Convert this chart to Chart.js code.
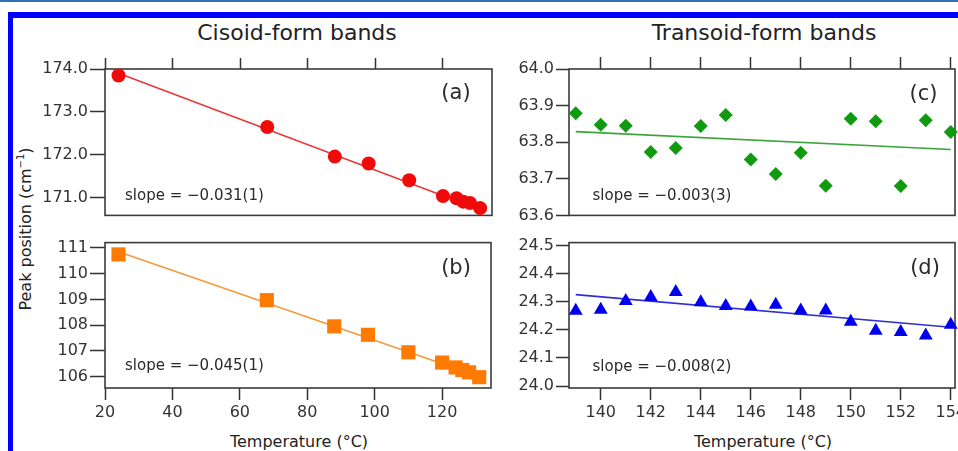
<!DOCTYPE html>
<html>
<head>
<meta charset="utf-8">
<script src="https://cdn.jsdelivr.net/npm/chart.js@4.4.0/dist/chart.umd.min.js"></script>
<style>
  html, body { margin: 0; padding: 0; width: 958px; height: 451px; overflow: hidden; background: #fff; }
  body { position: relative; font-family: "DejaVu Sans", sans-serif; color: #222; }
  #topline { position: absolute; left: 0; top: 0; width: 958px; height: 2px; background: #2f6fb5; }
  #frameTop { position: absolute; left: 8px; top: 12px; width: 950px; height: 6px; background: #0000fc; }
  #frameLeft { position: absolute; left: 8px; top: 12px; width: 5px; height: 439px; background: #0000fc; }
  canvas { position: absolute; }
  .lbl { position: absolute; white-space: nowrap; transform: translate(-50%, -50%); }
  .head { font-size: 22px; }
  .xt { font-size: 16px; }
  #ytitle { font-size: 16px; transform: translate(-50%, -50%) rotate(-90deg); }
  #ytitle sup { font-size: 10px; }
</style>
</head>
<body>
<div id="topline"></div>
<div id="frameTop"></div>
<div id="frameLeft"></div>

<div class="lbl head" style="left:297px;top:32px">Cisoid-form bands</div>
<div class="lbl head" style="left:764px;top:32px">Transoid-form bands</div>
<div class="lbl xt" style="left:299px;top:441px">Temperature (°C)</div>
<div class="lbl xt" style="left:763px;top:441px">Temperature (°C)</div>
<div class="lbl" id="ytitle" style="left:25px;top:229px">Peak position (cm<sup>−1</sup>)</div>

<canvas id="chartA"></canvas>
<canvas id="chartB"></canvas>
<canvas id="chartC"></canvas>
<canvas id="chartD"></canvas>

<script>
// cisoid-form bands, panels (a) and (b)
const cisTemps = [24, 68, 88, 98, 110, 120, 124, 126, 128, 131];
const peaksA = [173.85, 172.65, 171.96, 171.80, 171.41, 171.04, 170.99, 170.91, 170.88, 170.76];
const peaksB = [110.75, 108.97, 107.95, 107.62, 106.94, 106.54, 106.35, 106.25, 106.16, 105.97];
const fitTempsCis = [24, 131];
const fitA = [173.9, 170.72];
const fitB = [110.85, 106.0];

// transoid-form bands, panels (c) and (d)
const transTemps = [139, 140, 141, 142, 143, 144, 145, 146, 147, 148, 149, 150, 151, 152, 153, 154];
const peaksC = [63.879, 63.848, 63.845, 63.773, 63.784, 63.844, 63.874, 63.753, 63.713, 63.771, 63.681, 63.864, 63.857, 63.680, 63.860, 63.828];
const peaksD = [24.268, 24.271, 24.302, 24.317, 24.334, 24.298, 24.285, 24.283, 24.289, 24.269, 24.269, 24.229, 24.197, 24.192, 24.180, 24.218];
const fitTempsTrans = [139, 154];
const fitC = [63.829, 63.780];
const fitD = [24.325, 24.209];

// tick labels
const xTicksCis = [20, 40, 60, 80, 100, 120];
const xTicksTrans = [140, 142, 144, 146, 148, 150, 152, 154];
const yTicksA = [171, 172, 173, 174];
const yTicksB = [106, 107, 108, 109, 110, 111];
const yTicksC = [63.6, 63.7, 63.8, 63.9, 64.0];
const yTicksD = [24.0, 24.1, 24.2, 24.3, 24.4, 24.5];

const FONT = "DejaVu Sans";
const INK = "#333";

function pts(xs, ys) {
  return xs.map((x, i) => ({ x: x, y: ys[i] }));
}

// frame around the plot area plus the slope text and the panel letter
const panelText = {
  id: "panelText",
  beforeDatasetsDraw(chart, args, opts) {
    const ctx = chart.ctx;
    const a = chart.chartArea;
    ctx.save();
    ctx.strokeStyle = "#3a3a3a";
    ctx.lineWidth = 1.6;
    ctx.strokeRect(a.left, a.top, a.right - a.left, a.bottom - a.top);
    ctx.fillStyle = "#2a2a2a";
    ctx.textBaseline = "middle";
    ctx.textAlign = "left";
    ctx.font = "15px \"" + FONT + "\"";
    ctx.fillText(opts.slope, a.left + opts.slopeDx, a.bottom - opts.slopeDy);
    ctx.textAlign = "center";
    ctx.font = "21px \"" + FONT + "\"";
    ctx.fillText(opts.tag, a.right - opts.tagDx, a.top + opts.tagDy);
    ctx.restore();
  }
};

function makePanel(id, p) {
  const canvas = document.getElementById(id);
  const padRight = 24;
  const onTop = p.xPos === "top";
  const left = p.box.left - p.yWidth;
  const top = onTop ? p.box.top - p.xHeight : p.box.top - 6;
  const width = p.box.right - left + padRight;
  const height = onTop ? p.box.bottom - top + 6 : p.box.bottom - top + p.xHeight;
  canvas.width = width;
  canvas.height = height;
  canvas.style.left = left + "px";
  canvas.style.top = top + "px";
  canvas.style.width = width + "px";
  canvas.style.height = height + "px";

  return new Chart(canvas, {
    type: "scatter",
    data: {
      datasets: [
        {
          data: pts(p.temps, p.values),
          pointStyle: p.marker,
          pointRadius: p.radius,
          pointBackgroundColor: p.color,
          pointBorderWidth: 0,
          showLine: false,
          clip: false
        },
        {
          data: pts(p.fitT, p.fitV),
          showLine: true,
          pointRadius: 0,
          borderColor: p.lineColor,
          borderWidth: 1.6,
          clip: false
        }
      ]
    },
    options: {
      responsive: false,
      animation: false,
      events: [],
      layout: { padding: { left: 0, right: padRight, top: onTop ? 0 : 6, bottom: onTop ? 6 : 0 } },
      plugins: {
        legend: { display: false },
        tooltip: { enabled: false },
        panelText: p.text
      },
      scales: {
        x: {
          type: "linear",
          position: p.xPos,
          min: p.xMin,
          max: p.xMax,
          afterBuildTicks: (s) => { s.ticks = p.xTicks.map((v) => ({ value: v })); },
          afterFit: (s) => { s.height = p.xHeight; },
          border: { display: false },
          grid: { drawOnChartArea: false, drawTicks: true, tickLength: p.xTickLen, tickWidth: 1.5, tickColor: INK, color: INK },
          ticks: {
            display: !onTop,
            autoSkip: false,
            maxRotation: 0,
            padding: 3,
            color: INK,
            font: { family: FONT, size: 16 },
            callback: (v) => String(v)
          }
        },
        y: {
          type: "linear",
          min: p.yMin,
          max: p.yMax,
          afterBuildTicks: (s) => { s.ticks = p.yTicks.map((v) => ({ value: v })); },
          afterFit: (s) => { s.width = p.yWidth; },
          border: { display: false },
          grid: { drawOnChartArea: false, drawTicks: true, tickLength: p.yTickLen, tickWidth: 1.5, tickColor: INK, color: INK },
          ticks: {
            padding: 2,
            color: INK,
            font: { family: FONT, size: 16 },
            callback: (v) => Number(v).toFixed(p.yDec)
          }
        }
      }
    },
    plugins: [panelText]
  });
}

makePanel("chartA", {
  box: { left: 105, top: 69, right: 492, bottom: 221 },
  xPos: "top", xHeight: 19, yWidth: 80, xTickLen: 11, yTickLen: 15,
  xMin: 20, xMax: 134.5, xTicks: xTicksCis,
  yMin: 170.59, yMax: 174.0, yTicks: yTicksA, yDec: 1,
  temps: cisTemps, values: peaksA, fitT: fitTempsCis, fitV: fitA,
  marker: "circle", radius: 7, color: "#f00a0a", lineColor: "#e83838",
  text: { slope: "slope = −0.031(1)", slopeDx: 20, slopeDy: 19, tag: "(a)", tagDx: 36, tagDy: 25 }
});

makePanel("chartB", {
  box: { left: 105, top: 237, right: 491, bottom: 388 },
  xPos: "bottom", xHeight: 45, yWidth: 80, xTickLen: 12, yTickLen: 15,
  xMin: 20, xMax: 134.5, xTicks: xTicksCis,
  yMin: 105.55, yMax: 111.21, yTicks: yTicksB, yDec: 0,
  temps: cisTemps, values: peaksB, fitT: fitTempsCis, fitV: fitB,
  marker: "rect", radius: 10, color: "#ff7a00", lineColor: "#f59a3a",
  text: { slope: "slope = −0.045(1)", slopeDx: 20, slopeDy: 21.5, tag: "(b)", tagDx: 35, tagDy: 26 }
});

makePanel("chartC", {
  box: { left: 569, top: 69, right: 955, bottom: 221 },
  xPos: "top", xHeight: 19, yWidth: 70, xTickLen: 12, yTickLen: 13,
  xMin: 138.73, xMax: 154.17, xTicks: xTicksTrans,
  yMin: 63.6, yMax: 64.0, yTicks: yTicksC, yDec: 1,
  temps: transTemps, values: peaksC, fitT: fitTempsTrans, fitV: fitC,
  marker: "rectRot", radius: 7, color: "#109a10", lineColor: "#3aa53a",
  text: { slope: "slope = −0.003(3)", slopeDx: 23.5, slopeDy: 19, tag: "(c)", tagDx: 31.5, tagDy: 26 }
});

makePanel("chartD", {
  box: { left: 569, top: 237, right: 955, bottom: 388 },
  xPos: "bottom", xHeight: 45, yWidth: 70, xTickLen: 12, yTickLen: 13,
  xMin: 138.73, xMax: 154.17, xTicks: xTicksTrans,
  yMin: 23.993, yMax: 24.51, yTicks: yTicksD, yDec: 1,
  temps: transTemps, values: peaksD, fitT: fitTempsTrans, fitV: fitD,
  marker: "triangle", radius: 8, color: "#0000ee", lineColor: "#3030d0",
  text: { slope: "slope = −0.008(2)", slopeDx: 23.5, slopeDy: 20.5, tag: "(d)", tagDx: 30, tagDy: 26 }
});
</script>
</body>
</html>
